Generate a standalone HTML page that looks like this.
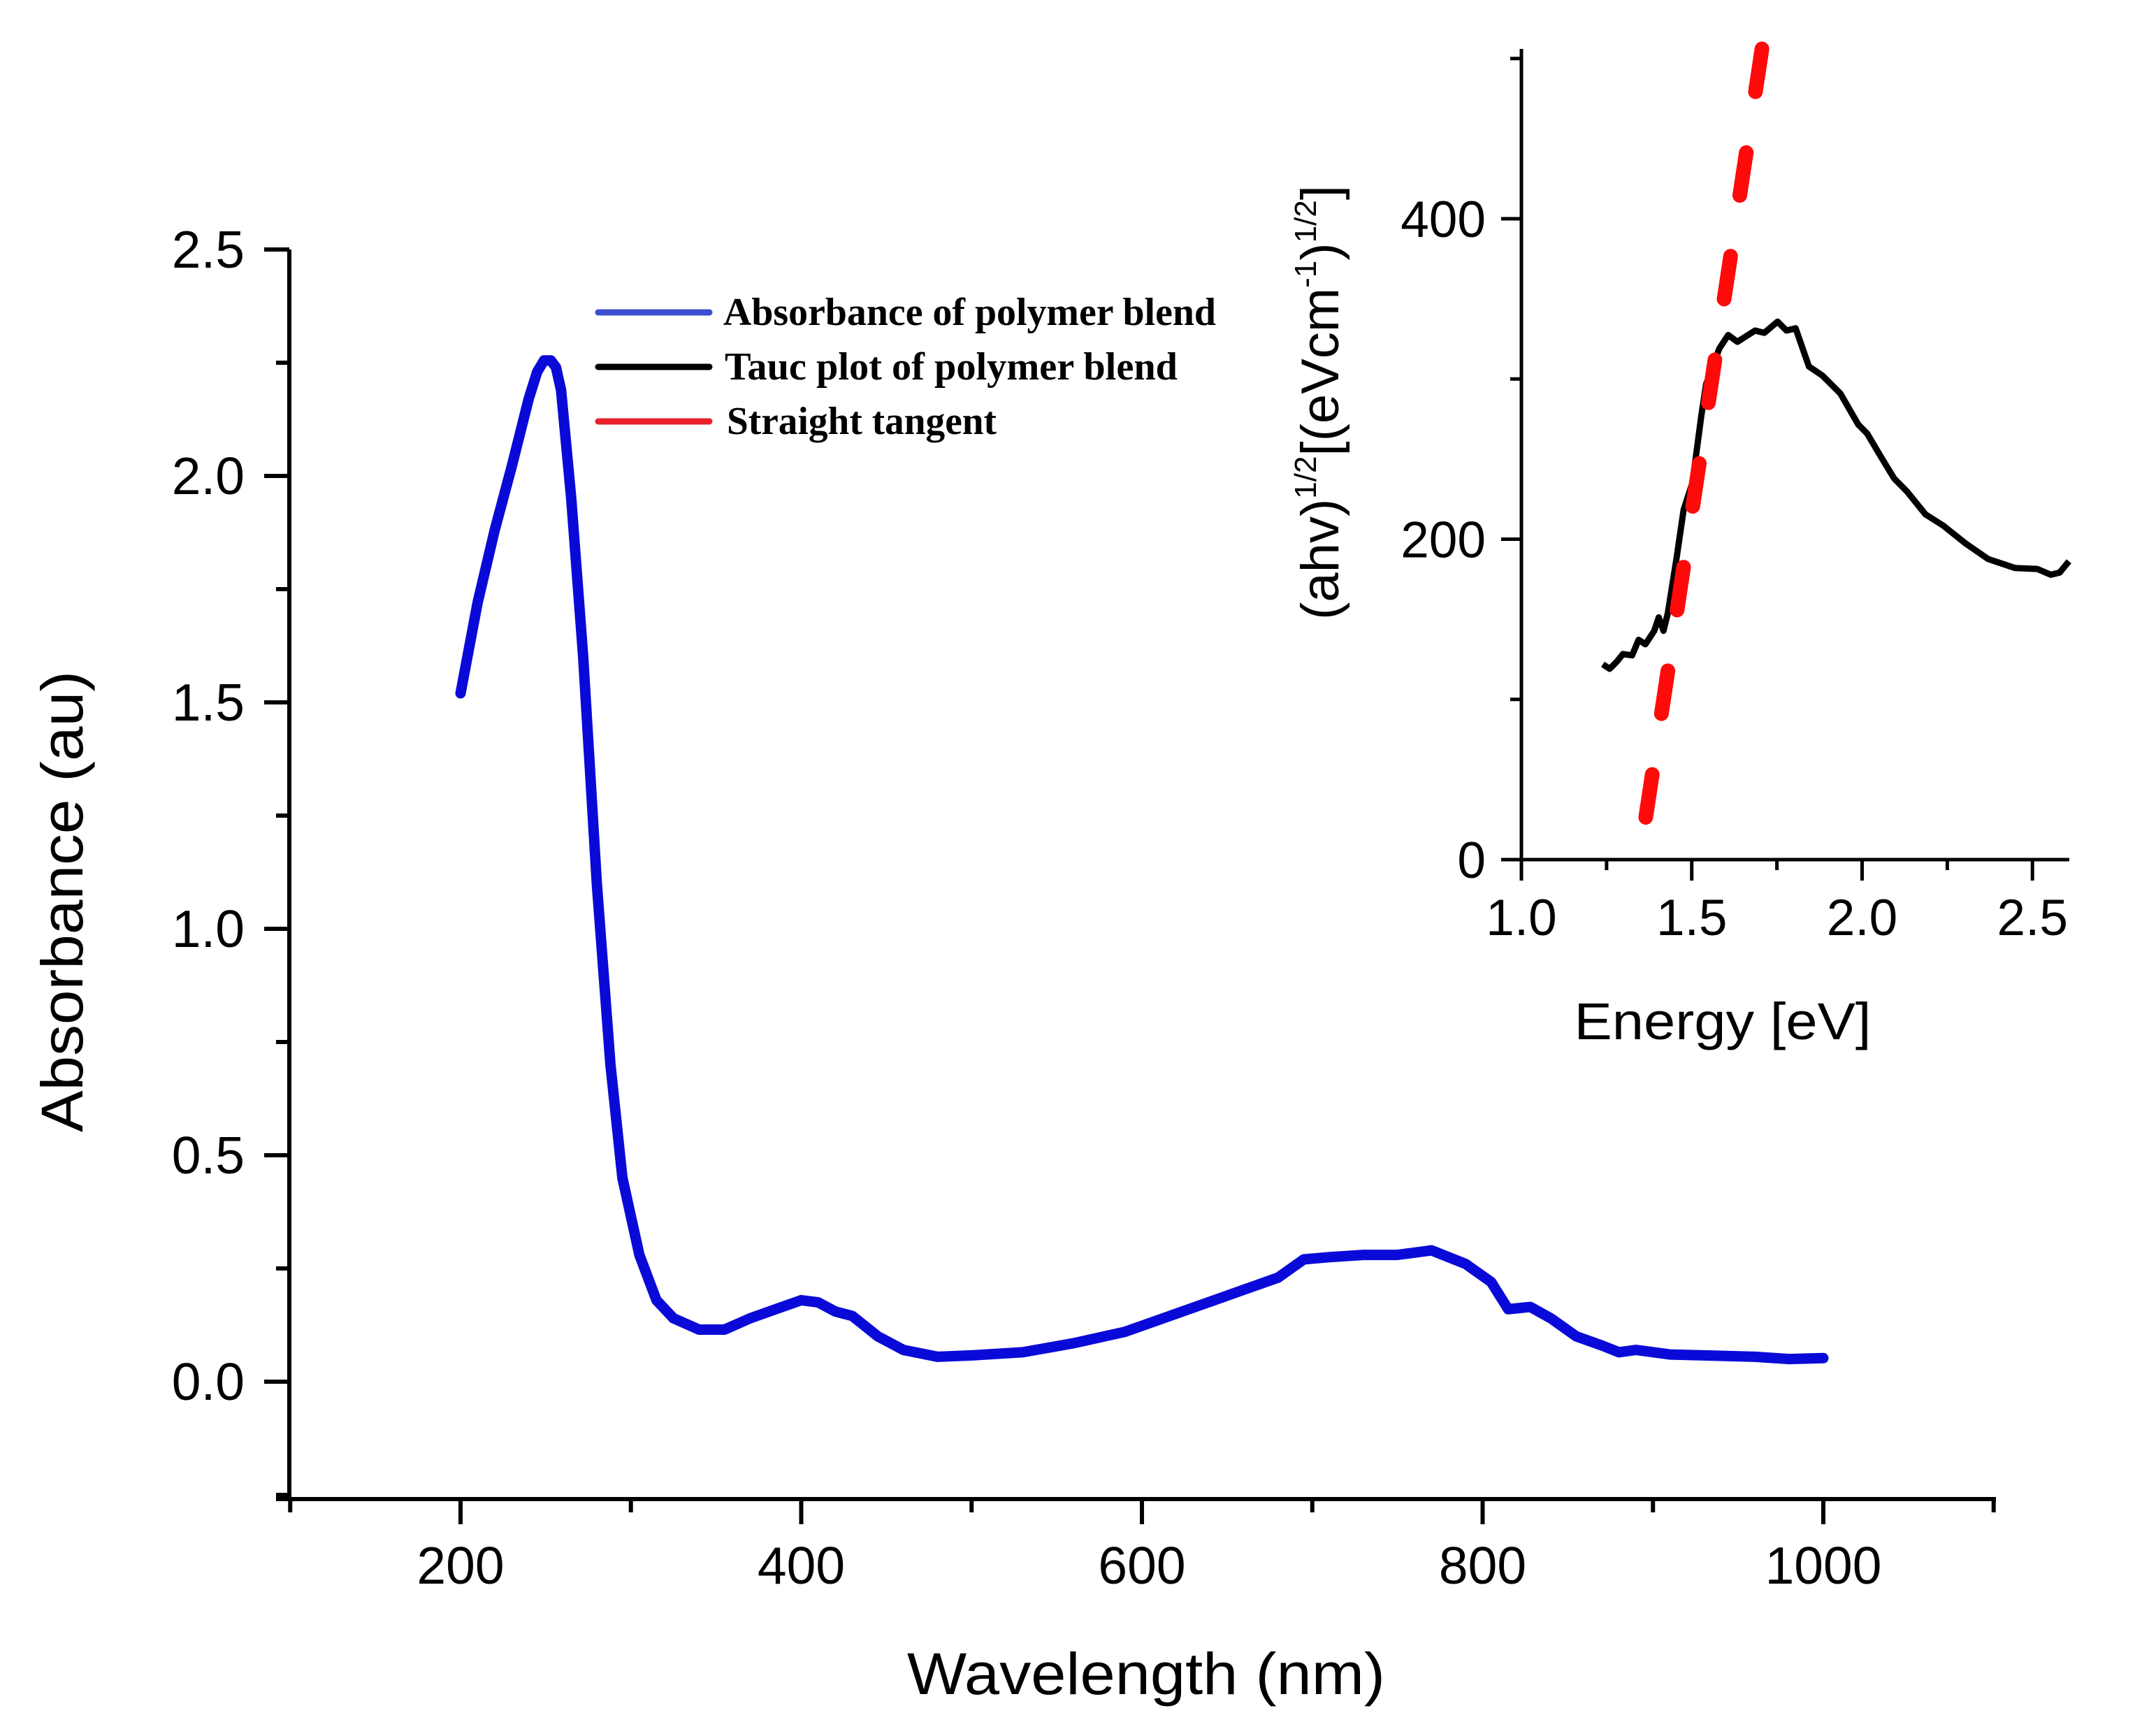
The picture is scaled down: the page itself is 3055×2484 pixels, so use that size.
<!DOCTYPE html>
<html><head><meta charset="utf-8"><style>
html,body{margin:0;padding:0;background:#fff}
svg{display:block}
text{font-family:"Liberation Sans",sans-serif;fill:#000}
</style></head><body>
<svg id="chart" width="3055" height="2484" viewBox="0 0 3055 2484" xmlns="http://www.w3.org/2000/svg"></svg>
<script>
const wavelengths=[200,210,220,230,240,245,249,253,256,259,265,272,280,288,295,305,315,325,340,355,370,385,400,410,420,430,445,460,480,500,530,560,590,620,650,680,695,710,730,750,770,790,805,815,828,840,855,870,880,890,910,930,960,980,1000];
const absorbance=[1.52,1.72,1.88,2.02,2.17,2.23,2.255,2.255,2.24,2.19,1.95,1.6,1.1,0.7,0.45,0.28,0.18,0.14,0.115,0.115,0.14,0.16,0.18,0.175,0.155,0.145,0.1,0.07,0.055,0.058,0.065,0.085,0.11,0.15,0.19,0.23,0.27,0.275,0.28,0.28,0.29,0.26,0.22,0.16,0.165,0.14,0.1,0.08,0.065,0.07,0.06,0.058,0.055,0.05,0.052];
const energy=[1.239,1.259,1.279,1.298,1.325,1.344,1.364,1.390,1.403,1.417,1.430,1.456,1.476,1.502,1.528,1.542,1.581,1.607,1.634,1.686,1.713,1.752,1.778,1.805,1.844,1.883,1.936,1.989,2.015,2.054,2.094,2.133,2.186,2.238,2.304,2.370,2.449,2.514,2.554,2.580,2.607];
const tauc=[121.9,119.1,123.3,128.3,127.5,137.2,134.4,142.8,151.2,142.8,154.0,189.0,218.3,235.1,277.0,296.6,319.0,327.4,323.2,330.2,328.8,335.8,330.2,331.6,307.8,302.2,291.0,271.5,265.9,251.9,237.9,229.5,215.5,208.5,197.3,187.6,182.0,181.4,177.8,179.2,186.2];
const tangentE=[1.359,1.706];
const tangentV=[18,506];
const mainXTicks=[200,400,600,800,1000];
const mainYTicks=["0.0","0.5","1.0","1.5","2.0","2.5"];
const insetXTicks=["1.0","1.5","2.0","2.5"];
const insetYTicks=["0","200","400"];

const NS="http://www.w3.org/2000/svg";
const svg=document.getElementById('chart');
function mk(tag,attrs,parent){const e=document.createElementNS(NS,tag);for(const k in attrs)e.setAttribute(k,attrs[k]);(parent||svg).appendChild(e);return e;}
const X=w=>659+(w-200)*2.4375;
const Y=a=>1977-a*648;
const IX=e=>2177+(e-1)*487.5;
const IY=v=>1230-v*2.2925;

let g=mk('g',{});


mk('line',{x1:414,y1:357,x2:414,y2:2148,stroke:'#000','stroke-width':6},g);
for(let a=-0.25;a<=2.51;a+=0.25){const major=Math.abs(Math.round(a*2)-a*2)<1e-6;mk('line',{x1:major?378:395,y1:Y(a),x2:414,y2:Y(a),stroke:'#000','stroke-width':6},g);}
mainYTicks.forEach(s=>{const t=mk('text',{x:350,y:Y(parseFloat(s))+26,'text-anchor':'end','font-size':75},g);t.textContent=s;

});
g=mk('g',{});


mk('line',{x1:395,y1:2145,x2:2856,y2:2145,stroke:'#000','stroke-width':6},g);
for(let w=100;w<=1100;w+=100){const major=w%200===0;mk('line',{x1:X(w),y1:2145,x2:X(w),y2:major?2181:2164,stroke:'#000','stroke-width':6},g);}
mainXTicks.forEach(w=>{const t=mk('text',{x:X(w),y:2266,'text-anchor':'middle','font-size':75},g);t.textContent=w;

});
let t=mk('text',{x:1640,y:2424,'text-anchor':'middle','font-size':84,textLength:684,lengthAdjust:'spacingAndGlyphs'});
t.textContent='Wavelength (nm)';


t=mk('text',{x:0,y:0,'text-anchor':'middle','font-size':84,textLength:660,lengthAdjust:'spacingAndGlyphs',transform:'translate(118,1290) rotate(-90)'});
t.textContent='Absorbance (au)';



let p=mk('path',{d:wavelengths.map((w,i)=>(i?'L':'M')+X(w).toFixed(1)+' '+Y(absorbance[i]).toFixed(1)).join(' '),fill:'none',stroke:'#0a0ad8','stroke-width':15,'stroke-linejoin':'round','stroke-linecap':'round'});



g=mk('g',{});


mk('line',{x1:2177,y1:70,x2:2177,y2:1232,stroke:'#000','stroke-width':5},g);
for(let v=0;v<=500;v+=100){const major=v%200===0;mk('line',{x1:major?2148:2161,y1:IY(v),x2:2177,y2:IY(v),stroke:'#000','stroke-width':5},g);}
insetYTicks.forEach(s=>{const t=mk('text',{x:2126,y:IY(+s)+26,'text-anchor':'end','font-size':73},g);t.textContent=s;

});
g=mk('g',{});


mk('line',{x1:2148,y1:1230,x2:2961,y2:1230,stroke:'#000','stroke-width':5},g);
for(let e=1;e<=2.51;e+=0.25){const major=Math.abs(Math.round(e*2)-e*2)<1e-6;mk('line',{x1:IX(e),y1:1230,x2:IX(e),y2:major?1260:1245,stroke:'#000','stroke-width':5},g);}
insetXTicks.forEach(s=>{const t=mk('text',{x:IX(parseFloat(s)),y:1338,'text-anchor':'middle','font-size':73},g);t.textContent=s;

});
t=mk('text',{x:2465,y:1487,'text-anchor':'middle','font-size':74,textLength:425,lengthAdjust:'spacingAndGlyphs'});
t.textContent='Energy [eV]';


t=mk('text',{x:0,y:0,'text-anchor':'middle','font-size':76,transform:'translate(1915,576) rotate(-90)'});


t.innerHTML='(ahv)<tspan font-size="44" dy="-32">1/2</tspan><tspan dy="32">[(eVcm</tspan><tspan font-size="44" dy="-32">-1</tspan><tspan dy="32">)</tspan><tspan font-size="44" dy="-32">1/2</tspan><tspan dy="32">]</tspan>';

p=mk('path',{d:energy.map((e,i)=>(i?'L':'M')+IX(e).toFixed(1)+' '+IY(tauc[i]).toFixed(1)).join(' '),fill:'none',stroke:'#000','stroke-width':9,'stroke-linejoin':'round'});


p=mk('line',{x1:IX(tangentE[1]),y1:IY(tangentV[1]),x2:IX(tangentE[0]),y2:IY(tangentV[0]),stroke:'#ff0a0a','stroke-width':21,'stroke-linecap':'round','stroke-dasharray':'62 88'});



const legendLabels=['Absorbance of polymer blend','Tauc plot of polymer blend','Straight tangent'];
const legendColors=['#3b4fd0','#000','#e8202a'];
const legendWidths=[705,648,386];
legendLabels.forEach((s,i)=>{const yy=447+i*78;
const lg=mk('g',{});


mk('line',{x1:856,y1:yy,x2:1015,y2:yy,stroke:legendColors[i],'stroke-width':9,'stroke-linecap':'round'},lg);
const tt=mk('text',{x:1035+(i===0?0:(i===1?2:5)),y:yy+18,'font-size':56,'font-weight':'bold',textLength:legendWidths[i],lengthAdjust:'spacingAndGlyphs',style:'font-family:"Liberation Serif",serif'},lg);
tt.textContent=s;});
</script>
</body></html>
